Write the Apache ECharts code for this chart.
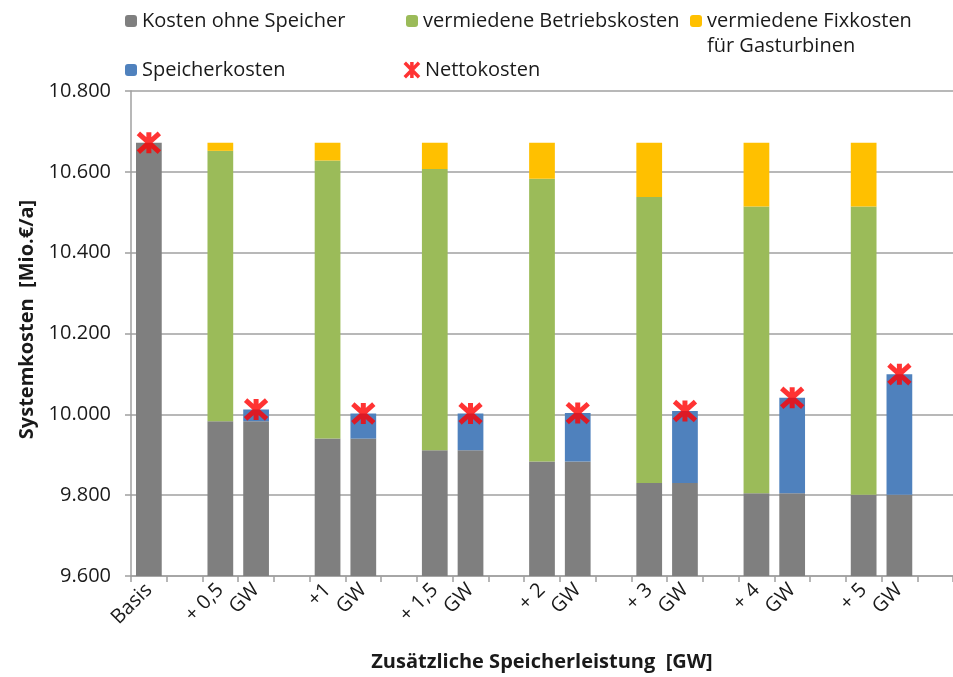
<!DOCTYPE html>
<html>
<head>
<meta charset="utf-8">
<script src="https://cdn.jsdelivr.net/npm/echarts@6/dist/echarts.min.js"></script>
<style>
  html, body { margin: 0; padding: 0; background: #fff; }
  #chart { width: 953px; height: 677px; }
</style>
</head>
<body>
<div id="chart"></div>
<script>
// Category slots along the x axis (empty slots act as gaps between scenario pairs)
const categories = ['Basis', '', '+ 0,5', 'GW', '', '+1', 'GW', '', '+ 1,5', 'GW', '', '+ 2', 'GW',
                    '', '+ 3', 'GW', '', '+ 4', 'GW', '', '+ 5', 'GW', ''];

// System costs in Mio. €/a
const basisKosten = 10672;
const kostenOhneSpeicher = [9983, 9940, 9911, 9883, 9830, 9805, 9801];
const vermiedeneBetriebskosten = [669, 688, 696, 700, 708, 709, 713];
const vermiedeneFixkosten = [20, 44, 65, 89, 134, 158, 158];
const speicherkosten = [29, 62, 91, 120, 178, 236, 298];

const yTicks = { min: 9600, max: 10800, interval: 200 };

// Build the per-slot series arrays: each scenario k occupies slots 3k+2 (savings bar) and 3k+3 (storage bar)
const n = categories.length;
const blank = () => new Array(n).fill('-');
const grau = blank(), gruen = blank(), gelb = blank(), blau = blank(), netto = blank();
grau[0] = basisKosten;
netto[0] = basisKosten;
kostenOhneSpeicher.forEach((v, k) => {
  const a = 3 * k + 2, b = 3 * k + 3;
  grau[a] = v;
  gruen[a] = vermiedeneBetriebskosten[k];
  gelb[a] = vermiedeneFixkosten[k];
  grau[b] = v;
  blau[b] = speicherkosten[k];
  netto[b] = v + speicherkosten[k];
});

const FONT = 'Open Sans';
const textColor = '#1a1a1a';
const gridColor = '#a0a0a0';
const starPath = 'path://M0,0L10,10M10,0L0,10M5,-0.6L5,10.6';

const legendBase = {
  orient: 'horizontal',
  padding: 0,
  itemWidth: 12,
  itemHeight: 12,
  itemGap: 4,
  selectedMode: false,
  textStyle: { fontFamily: FONT, fontSize: 20, color: textColor }
};

const chart = echarts.init(document.getElementById('chart'), null, { renderer: 'canvas' });

chart.setOption({
  animation: false,
  backgroundColor: '#ffffff',
  textStyle: { fontFamily: FONT },
  legend: [
    Object.assign({}, legendBase, { left: 125, top: 11, data: ['Kosten ohne Speicher'] }),
    Object.assign({}, legendBase, { left: 406, top: 11, data: ['vermiedene Betriebskosten'] }),
    Object.assign({}, legendBase, { left: 690, top: 11, data: ['vermiedene Fixkosten'] }),
    Object.assign({}, legendBase, { left: 125, top: 60, data: ['Speicherkosten'] }),
    Object.assign({}, legendBase, {
      left: 403, top: 60, itemWidth: 16, itemHeight: 16,
      data: [{ name: 'Nettokosten', icon: starPath,
               itemStyle: { color: 'rgba(0,0,0,0)', borderColor: '#ff0000', borderWidth: 3.5 } }]
    })
  ],
  graphic: [{
    type: 'text',
    left: 707, top: 36,
    style: { text: 'für Gasturbinen', fontFamily: FONT, fontSize: 20, fill: textColor }
  }],
  grid: { left: 131, right: -3, top: 91, bottom: 100, containLabel: false },
  xAxis: {
    type: 'category',
    data: categories,
    boundaryGap: true,
    axisLine: { show: true, lineStyle: { color: gridColor, width: 1.5 } },
    axisTick: { show: true, alignWithLabel: false, interval: 0, length: 6, lineStyle: { color: gridColor, width: 1.5 } },
    axisLabel: { interval: 0, rotate: 45, fontFamily: FONT, fontSize: 20, color: textColor, margin: 11 },
    name: 'Zusätzliche Speicherleistung  [GW]',
    nameLocation: 'middle',
    nameGap: 76,
    nameTextStyle: { fontFamily: FONT, fontSize: 20, fontWeight: 'bold', color: textColor }
  },
  yAxis: {
    type: 'value',
    min: yTicks.min, max: yTicks.max, interval: yTicks.interval,
    axisLine: { show: true, lineStyle: { color: gridColor, width: 1.5 } },
    axisTick: { show: true, length: 6, lineStyle: { color: gridColor, width: 1.5 } },
    splitLine: { show: true, lineStyle: { color: gridColor, width: 1.5 } },
    axisLabel: {
      fontFamily: FONT, fontSize: 20, color: textColor, margin: 20,
      formatter: v => {
        const s = String(v);
        return s.length > 3 ? s.slice(0, s.length - 3) + '.' + s.slice(-3) : s;
      }
    },
    name: 'Systemkosten  [Mio.€/a]',
    nameLocation: 'middle',
    nameGap: 94,
    nameTextStyle: { fontFamily: FONT, fontSize: 20, fontWeight: 'bold', color: textColor, padding: [0, 0, 0, 28] }
  },
  series: [
    { name: 'Kosten ohne Speicher', type: 'bar', stack: 'k', data: grau, barWidth: '72%',
      itemStyle: { color: '#7f7f7f' } },
    { name: 'vermiedene Betriebskosten', type: 'bar', stack: 'k', data: gruen, barWidth: '72%',
      itemStyle: { color: '#9bbb59' } },
    { name: 'vermiedene Fixkosten', type: 'bar', stack: 'k', data: gelb, barWidth: '72%',
      itemStyle: { color: '#ffc000' } },
    { name: 'Speicherkosten', type: 'bar', stack: 'k', data: blau, barWidth: '72%',
      itemStyle: { color: '#4f81bd' } },
    { name: 'Nettokosten', type: 'scatter', data: netto, symbol: starPath, symbolSize: 21, z: 10,
      itemStyle: { color: 'rgba(0,0,0,0)', borderColor: '#ff0000', borderWidth: 5 } }
  ]
});
</script>
</body>
</html>
